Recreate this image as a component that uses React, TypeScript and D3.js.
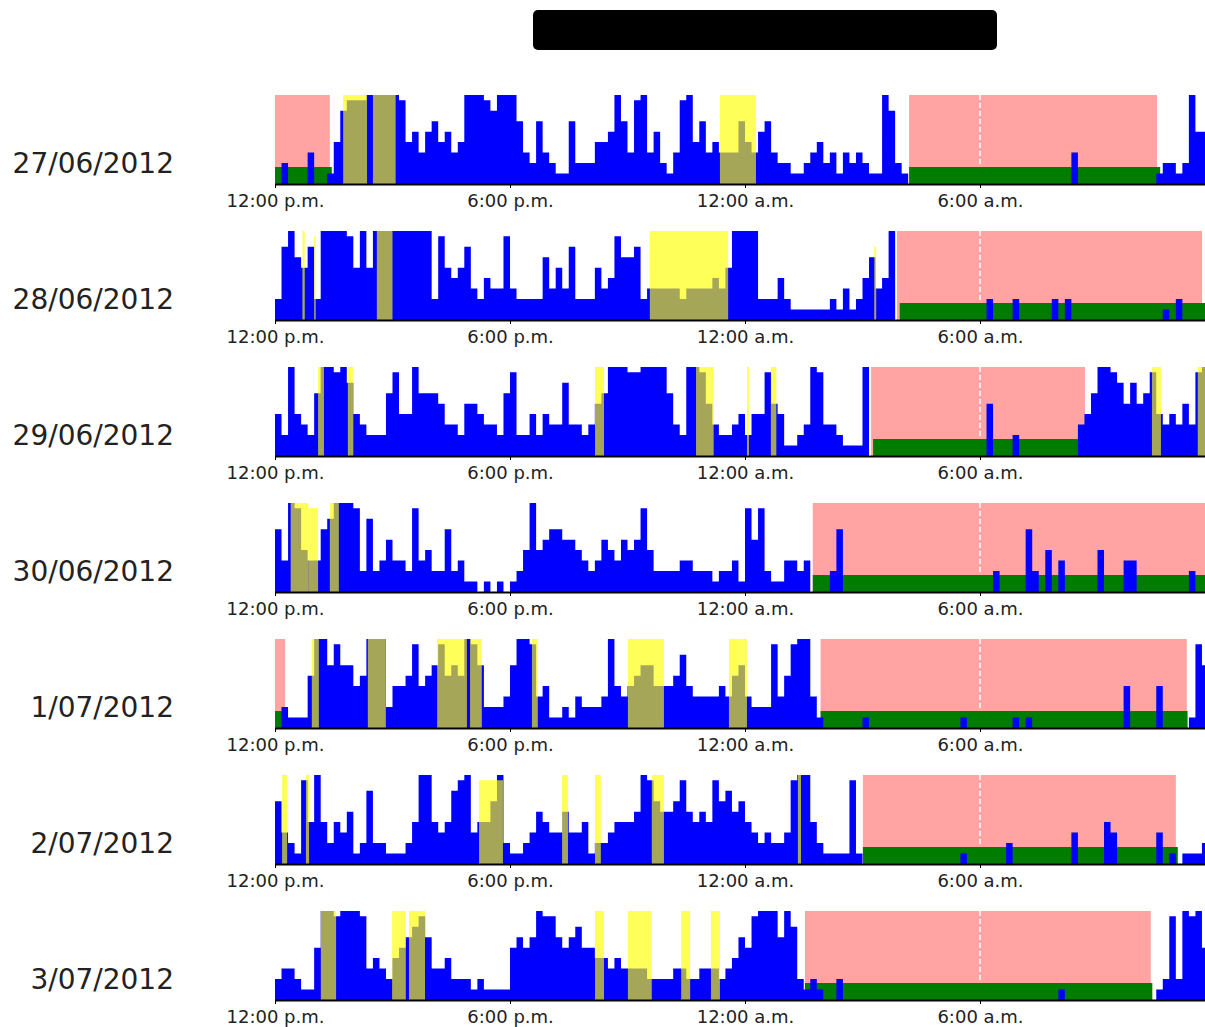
import React, { useEffect, useRef } from 'react';
import * as d3 from 'd3';

const dates = ['27/06/2012', '28/06/2012', '29/06/2012', '30/06/2012', '1/07/2012', '2/07/2012', '3/07/2012'];
const tickHours = [0, 6, 12, 18];
const tickLabels = ['12:00 p.m.', '6:00 p.m.', '12:00 a.m.', '6:00 a.m.'];

// activity per 10-minute epoch from 12:00 p.m. (0-10; the scale clips near the top)
const act27 = [
  0, 2, 0, 0, 0, 3, 0, 0, 1, 4, 7, 8, 8, 8, 10, 9, 9, 9, 9, 8, 4, 5, 3, 5, 6, 4, 5, 3, 4, 9, 9, 9, 8, 7, 10, 10,
  9, 6, 3, 2, 6, 3, 2, 1, 1, 6, 2, 2, 2, 4, 4, 5, 9, 6, 3, 8, 9, 3, 5, 2, 1, 3, 8, 10, 4, 6, 3, 4, 3, 3, 3, 6,
  4, 3, 5, 6, 3, 2, 2, 1, 1, 2, 3, 4, 2, 3, 1, 3, 2, 3, 2, 1, 1, 9, 7, 2, 1, 0, 0, 0, 0, 0, 0, 0, 0, 0, 0, 0,
  0, 0, 0, 0, 0, 0, 0, 0, 0, 0, 0, 0, 0, 0, 3, 0, 0, 0, 0, 0, 0, 0, 0, 0, 0, 0, 0, 1, 2, 2, 1, 2, 9, 5, 5, 6,
];
const act28 = [
  2, 7, 9, 6, 5, 7, 2, 9, 10, 9, 10, 8, 5, 9, 5, 9, 9, 9, 10, 10, 10, 10, 10, 10, 2, 8, 5, 4, 5, 7, 3, 2, 4, 3, 3, 8,
  3, 2, 2, 2, 2, 6, 3, 5, 3, 7, 2, 2, 2, 5, 3, 4, 8, 6, 6, 7, 2, 3, 3, 3, 3, 3, 2, 3, 3, 3, 3, 4, 3, 5, 10, 10,
  10, 9, 2, 2, 2, 4, 2, 1, 1, 1, 1, 1, 1, 2, 1, 3, 1, 2, 4, 6, 3, 4, 9, 0, 0, 0, 0, 0, 0, 0, 0, 0, 0, 0, 0, 0,
  0, 2, 0, 0, 0, 2, 0, 0, 0, 0, 0, 2, 0, 2, 0, 0, 0, 0, 0, 0, 0, 0, 0, 0, 0, 0, 0, 0, 1, 0, 2, 0, 0, 0, 0, 0,
];
const act29 = [
  4, 2, 10, 4, 3, 2, 6, 9, 10, 8, 9, 7, 4, 3, 2, 2, 2, 6, 8, 4, 4, 9, 6, 6, 6, 5, 3, 3, 2, 5, 5, 4, 3, 3, 2, 6,
  8, 2, 2, 4, 2, 4, 3, 3, 7, 3, 3, 2, 3, 5, 6, 9, 10, 10, 8, 8, 10, 10, 10, 10, 6, 3, 2, 9, 9, 8, 5, 3, 2, 2, 3, 4,
  2, 4, 4, 8, 5, 4, 1, 1, 2, 3, 9, 8, 3, 3, 2, 1, 1, 1, 9, 0, 0, 0, 0, 0, 0, 0, 0, 0, 0, 0, 0, 0, 0, 0, 0, 0,
  0, 5, 0, 0, 0, 2, 0, 0, 0, 0, 0, 0, 0, 0, 0, 3, 4, 6, 9, 10, 8, 7, 5, 7, 5, 6, 8, 4, 3, 4, 3, 5, 3, 8, 9, 9,
];
const act30 = [
  6, 3, 9, 8, 4, 3, 3, 6, 7, 9, 10, 10, 8, 2, 7, 2, 3, 5, 3, 3, 2, 8, 3, 4, 2, 2, 6, 2, 3, 1, 1, 0, 1, 0, 1, 0,
  1, 2, 4, 9, 4, 5, 6, 6, 5, 5, 4, 3, 2, 3, 5, 4, 3, 5, 4, 5, 8, 4, 2, 2, 2, 2, 3, 3, 2, 2, 2, 1, 2, 2, 3, 1,
  8, 5, 8, 2, 1, 1, 3, 3, 2, 3, 0, 0, 0, 2, 6, 0, 0, 0, 0, 0, 0, 0, 0, 0, 0, 0, 0, 0, 0, 0, 0, 0, 0, 0, 0, 0,
  0, 0, 2, 0, 0, 0, 0, 6, 2, 0, 4, 0, 3, 0, 0, 0, 0, 0, 4, 0, 0, 0, 3, 3, 0, 0, 0, 0, 0, 0, 0, 0, 2, 0, 0, 0,
];
const act01 = [
  0, 2, 1, 1, 1, 5, 9, 9, 6, 8, 6, 6, 4, 5, 9, 9, 9, 2, 4, 4, 5, 8, 4, 5, 6, 8, 5, 6, 5, 9, 8, 6, 2, 2, 2, 3,
  6, 10, 10, 8, 3, 4, 1, 1, 2, 1, 3, 2, 2, 2, 3, 9, 4, 3, 4, 5, 6, 6, 4, 4, 4, 5, 7, 4, 3, 3, 3, 3, 4, 3, 5, 6,
  3, 2, 2, 2, 8, 3, 5, 8, 10, 10, 3, 1, 0, 0, 0, 0, 0, 0, 1, 0, 0, 0, 0, 0, 0, 0, 0, 0, 0, 0, 0, 0, 0, 1, 0, 0,
  0, 0, 0, 0, 0, 1, 0, 1, 0, 0, 0, 0, 0, 0, 0, 0, 0, 0, 0, 0, 0, 0, 4, 0, 0, 0, 0, 4, 0, 0, 0, 0, 1, 8, 6, 6,
];
const act02 = [
  6, 3, 2, 1, 8, 4, 9, 4, 2, 4, 3, 5, 1, 2, 7, 2, 2, 1, 1, 1, 2, 4, 9, 9, 4, 3, 4, 7, 8, 9, 3, 4, 4, 6, 9, 2,
  1, 1, 2, 3, 5, 4, 3, 3, 5, 3, 3, 4, 1, 2, 2, 3, 4, 4, 4, 5, 9, 8, 6, 5, 5, 6, 8, 5, 4, 5, 4, 8, 6, 7, 5, 6,
  4, 3, 2, 3, 2, 2, 3, 8, 10, 9, 4, 2, 1, 1, 1, 1, 8, 1, 0, 0, 0, 0, 0, 0, 0, 0, 0, 0, 0, 0, 0, 0, 0, 1, 0, 0,
  0, 0, 0, 0, 2, 0, 0, 0, 0, 0, 0, 0, 0, 0, 3, 0, 0, 0, 0, 4, 3, 0, 0, 0, 0, 0, 0, 3, 0, 1, 0, 1, 1, 1, 2, 7,
];
const act03 = [
  2, 3, 3, 2, 1, 1, 5, 10, 9, 8, 9, 9, 9, 8, 3, 4, 3, 2, 4, 5, 6, 7, 8, 6, 3, 3, 4, 2, 2, 2, 1, 2, 1, 1, 1, 1,
  5, 6, 5, 6, 9, 8, 8, 6, 5, 6, 7, 5, 5, 4, 4, 3, 4, 3, 3, 3, 3, 2, 2, 2, 2, 3, 3, 2, 2, 3, 3, 3, 2, 3, 4, 6,
  5, 8, 10, 10, 9, 6, 9, 7, 2, 1, 2, 1, 0, 0, 2, 0, 0, 0, 0, 0, 0, 0, 0, 0, 0, 0, 0, 0, 0, 0, 0, 0, 0, 0, 0, 0,
  0, 0, 0, 0, 0, 0, 0, 0, 0, 0, 0, 0, 1, 0, 0, 0, 0, 0, 0, 0, 0, 0, 0, 0, 0, 0, 0, 1, 2, 8, 2, 9, 8, 9, 5, 6,
];

// light exposure periods: [start hour, end hour, level 0-10]
const light27 = [[1.74, 2.35, 10], [2.5, 3.08, 10], [11.36, 12.28, 10]];
const light28 = [[0.7, 0.76, 9], [1.0, 1.04, 8], [2.6, 3.0, 10], [9.57, 11.57, 10], [15.3, 15.35, 7]];
const light29 = [[1.1, 1.25, 10], [1.86, 2.0, 10], [8.17, 8.4, 10], [10.75, 11.2, 10], [12.05, 12.1, 10], [12.66, 12.8, 10], [22.39, 22.62, 10], [23.56, 23.75, 10]];
const light30 = [[0.4, 0.85, 10], [0.85, 1.1, 8], [1.4, 1.63, 10]];
const light01 = [[0.94, 1.12, 10], [2.37, 2.83, 10], [4.14, 4.9, 10], [4.98, 5.28, 10], [6.56, 6.71, 10], [9.01, 9.93, 10], [11.59, 12.05, 10]];
const light02 = [[0.18, 0.31, 10], [0.79, 0.87, 10], [5.21, 5.82, 8], [7.33, 7.48, 10], [8.17, 8.32, 9], [9.62, 9.93, 10], [13.35, 13.43, 10]];
const light03 = [[1.17, 1.56, 10], [2.99, 3.34, 10], [3.42, 3.83, 10], [8.17, 8.4, 10], [9.01, 9.62, 10], [10.37, 10.6, 10], [11.13, 11.36, 10]];

// in-bed periods (pink) and scored sleep (green), in hours from 12:00 p.m.
const bed27 = [[0, 1.4], [16.19, 22.52]];
const bed28 = [[15.88, 23.67]];
const bed29 = [[15.22, 20.68]];
const bed30 = [[13.73, 24]];
const bed01 = [[0, 0.26], [13.93, 23.28]];
const bed02 = [[15.01, 23.0]];
const bed03 = [[13.53, 22.36]];

const sleep27 = [[0, 1.45], [16.19, 22.6]];
const sleep28 = [[15.95, 24]];
const sleep29 = [[15.27, 20.75]];
const sleep30 = [[13.73, 24]];
const sleep01 = [[0, 0.31], [13.93, 23.3]];
const sleep02 = [[15.01, 23.05]];
const sleep03 = [[13.53, 22.4]];

const activity = [act27, act28, act29, act30, act01, act02, act03];
const light = [light27, light28, light29, light30, light01, light02, light03];
const bed = [bed27, bed28, bed29, bed30, bed01, bed02, bed03];
const sleep = [sleep27, sleep28, sleep29, sleep30, sleep01, sleep02, sleep03];

const W = 1205;
const H = 1027;

const App = () => {
  const svgRef = useRef<SVGSVGElement>(null);

  useEffect(() => {
    const svg = d3.select(svgRef.current);
    svg.selectAll('*').remove();

    const plotH = 89;
    const x = d3.scaleLinear().domain([0, 24]).range([275, 1215]);
    const rowY = d3.scaleLinear().domain([0, 1]).range([95, 231]);
    const y = d3.scaleLinear().domain([0, 8.5]).range([plotH, 0]).clamp(true);

    // redacted title
    svg.append('rect').attr('x', 533).attr('y', 10).attr('width', 464).attr('height', 40).attr('rx', 5).attr('fill', '#000');

    const area = d3
      .area<number>()
      .x((d, j) => x(j / 6))
      .y0(plotH)
      .y1((d) => y(d))
      .curve(d3.curveStepAfter);

    dates.forEach((date, i) => {
      const g = svg.append('g').attr('transform', `translate(0,${rowY(i)})`);

      g.selectAll('.bed')
        .data(bed[i])
        .enter()
        .append('rect')
        .attr('x', (d) => x(d[0]))
        .attr('y', 0)
        .attr('width', (d) => x(d[1]) - x(d[0]))
        .attr('height', plotH)
        .attr('fill', '#ffa3a3');

      g.append('line')
        .attr('x1', x(18))
        .attr('x2', x(18))
        .attr('y1', 0)
        .attr('y2', plotH)
        .attr('stroke', '#fff')
        .attr('stroke-width', 1.5)
        .attr('stroke-dasharray', '5,3');

      g.selectAll('.sleep')
        .data(sleep[i])
        .enter()
        .append('rect')
        .attr('x', (d) => x(d[0]))
        .attr('y', plotH - 17)
        .attr('width', (d) => x(d[1]) - x(d[0]))
        .attr('height', 17)
        .attr('fill', '#007d00');

      const vals = activity[i].concat([activity[i][activity[i].length - 1]]);
      g.append('path').attr('d', area(vals)).attr('fill', '#0000ff');

      g.selectAll('.light')
        .data(light[i])
        .enter()
        .append('rect')
        .attr('x', (d) => x(d[0]))
        .attr('y', (d) => y(d[2]))
        .attr('width', (d) => Math.max(1, x(d[1]) - x(d[0])))
        .attr('height', (d) => plotH - y(d[2]))
        .attr('fill', '#ffff00')
        .attr('opacity', 0.65);

      const axis = g
        .append('g')
        .attr('transform', `translate(0,${plotH})`)
        .call(
          d3
            .axisBottom(x)
            .tickValues(tickHours)
            .tickFormat((d, k) => tickLabels[k])
            .tickSize(4)
            .tickSizeOuter(0)
            .tickPadding(6)
        );
      axis.select('.domain').attr('stroke', '#000').attr('stroke-width', 2);
      axis.selectAll('line').attr('stroke', '#000');
      axis
        .selectAll('text')
        .attr('font-family', 'DejaVu Sans')
        .attr('font-size', 18)
        .attr('fill', '#222');

      g.append('text')
        .attr('x', 174)
        .attr('y', 78)
        .attr('text-anchor', 'end')
        .attr('font-family', 'DejaVu Sans')
        .attr('font-size', 28)
        .attr('fill', '#222')
        .text(date);
    });
  }, []);

  return (
    <svg
      ref={svgRef}
      width={W}
      height={H}
      style={{ position: 'absolute', left: 0, top: 0, background: '#fff' }}
    />
  );
};

export default App;
